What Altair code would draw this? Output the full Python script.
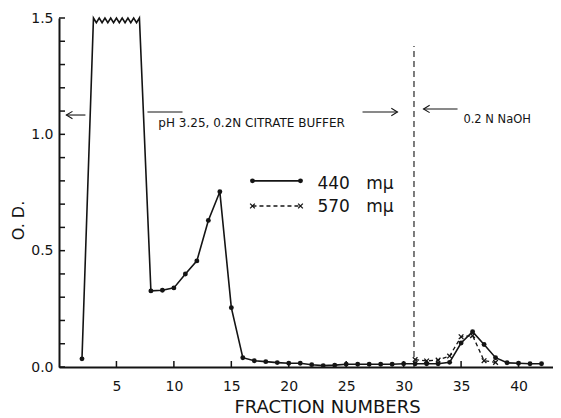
import altair as alt
import pandas as pd

# ---- data ----
F440_X = [2, 8, 9, 10, 11, 12, 13, 14, 15, 16, 17, 18, 19, 20, 21, 22, 23, 24, 25,
          26, 27, 28, 29, 30, 31, 32, 33, 34, 35, 36, 37, 38, 39, 40, 41, 42]
F440_Y = [0.035, 0.327, 0.330, 0.340, 0.400, 0.456, 0.630, 0.753, 0.255, 0.040,
          0.027, 0.023, 0.019, 0.016, 0.016, 0.010, 0.006, 0.008, 0.012, 0.012,
          0.012, 0.012, 0.012, 0.014, 0.014, 0.014, 0.014, 0.020, 0.103, 0.152,
          0.097, 0.040, 0.018, 0.016, 0.014, 0.014]
# off-scale plateau (drawn as a wavy top)
TOP_X = [3.0, 3.25, 3.5, 3.75, 4.0, 4.25, 4.5, 4.75, 5.0, 5.25, 5.5, 5.75, 6.0,
         6.25, 6.5, 6.75, 7.0]
TOP_Y = [1.5, 1.48, 1.5, 1.48, 1.5, 1.48, 1.5, 1.48, 1.5, 1.48, 1.5, 1.48, 1.5,
         1.48, 1.5, 1.48, 1.5]
F570_X = [31, 32, 33, 34, 35, 36, 37, 38]
F570_Y = [0.032, 0.026, 0.030, 0.047, 0.130, 0.135, 0.027, 0.020]

X_TICKS = [5, 10, 15, 20, 25, 30, 35, 40]
Y_LABELS = [0.0, 0.5, 1.0, 1.5]
Y_TICKS = [0.0, 0.1, 0.2, 0.3, 0.4, 0.5, 0.6, 0.7, 0.8, 0.9, 1.0, 1.1, 1.2, 1.3, 1.4, 1.5]
SWITCH_X = 30.9

INK = "#141414"
FONT = "DejaVu Sans"

xs = alt.Scale(domain=[0, 43], nice=False, zero=False)
ys = alt.Scale(domain=[0, 1.5], nice=False)

AX = alt.Axis(values=X_TICKS, ticks=False, grid=False, domainWidth=2, domainColor=INK,
              labelFontSize=14, labelColor=INK, labelFont=FONT, labelPadding=12,
              title="FRACTION NUMBERS", titleFont=FONT, titleFontSize=18,
              titleFontWeight="normal", titleColor=INK, titleX=268, titleY=45,
              titleBaseline="alphabetic", titleAlign="center")
AY = alt.Axis(values=Y_LABELS, format=".1f", ticks=False, grid=False, domainWidth=2,
              domainColor=INK, labelFontSize=14, labelColor=INK, labelFont=FONT,
              labelPadding=6, title="O. D.", titleFont=FONT, titleFontSize=16,
              titleFontWeight="normal", titleColor=INK, titleAngle=270, titleX=-36,
              titleY=202, titleBaseline="alphabetic", titleAlign="center")

def X(f="x"):
    return alt.X(f"{f}:Q", scale=xs, axis=AX)

def Y(f="y"):
    return alt.Y(f"{f}:Q", scale=ys, axis=AY)

d440 = pd.DataFrame({"x": F440_X, "y": F440_Y})
dtop = pd.DataFrame({"x": TOP_X, "y": TOP_Y})
line440 = pd.concat([d440, dtop]).sort_values("x")
d570 = pd.DataFrame({"x": F570_X, "y": F570_Y})

XMARK = "M -1 -1 L 1 1 M 1 -1 L -1 1"
HEAD_L = "M 1 -0.6 L 0 0 L 1 0.6"
HEAD_R = "M -1 -0.6 L 0 0 L -1 0.6"

l440 = alt.Chart(line440).mark_line(color=INK, strokeWidth=1.6).encode(x=X(), y=Y())
p440 = alt.Chart(d440).mark_circle(color=INK, size=24, opacity=1).encode(x=X(), y=Y())
l570 = alt.Chart(d570).mark_line(color=INK, strokeWidth=1.3, strokeDash=[4, 3]).encode(x=X(), y=Y())
p570 = alt.Chart(d570).mark_point(shape=XMARK, color=INK, size=22, strokeWidth=1.3,
                                  filled=False, opacity=1).encode(x=X(), y=Y())

# inside ticks
ytk = alt.Chart(pd.DataFrame({"y": Y_TICKS})).mark_rule(color=INK, strokeWidth=1.5).encode(
    y=Y(), x=alt.value(0), x2=alt.value(6))
xtk = alt.Chart(pd.DataFrame({"x": X_TICKS})).mark_rule(color=INK, strokeWidth=1.5).encode(
    x=X(), y=alt.value(349), y2=alt.value(343))

# vertical dashed switch line
vline = alt.Chart(pd.DataFrame({"x": [SWITCH_X], "y": [0.0], "y2": [1.38]})).mark_rule(
    color=INK, strokeWidth=1.1, strokeDash=[6, 4]).encode(x=X(), y=Y(), y2="y2:Q")

# arrows and bars
seg = pd.DataFrame({
    "x": [0.64, 7.7, 26.42, 31.73],
    "x2": [2.3, 10.75, 29.46, 34.69],
    "y": [1.083, 1.096, 1.096, 1.109],
})
segs = alt.Chart(seg).mark_rule(color=INK, strokeWidth=1.1).encode(x=X(), x2="x2:Q", y=Y())
headsL = alt.Chart(pd.DataFrame({"x": [0.64, 31.73], "y": [1.083, 1.109]})).mark_point(
    shape=HEAD_L, size=150, color=INK, strokeWidth=1.1, filled=False, opacity=1).encode(x=X(), y=Y())
headsR = alt.Chart(pd.DataFrame({"x": [29.46], "y": [1.096]})).mark_point(
    shape=HEAD_R, size=150, color=INK, strokeWidth=1.1, filled=False, opacity=1).encode(x=X(), y=Y())

notes1 = pd.DataFrame({"x": [8.65], "y": [1.031], "t": ["pH 3.25, 0.2N CITRATE BUFFER"]})
notes2 = pd.DataFrame({"x": [35.2], "y": [1.049], "t": ["0.2 N NaOH"]})
txt1 = alt.Chart(notes1).mark_text(align="left", baseline="alphabetic", font=FONT,
                                   fontSize=12, color=INK).encode(x=X(), y=Y(), text="t:N")
txt2 = alt.Chart(notes2).mark_text(align="left", baseline="alphabetic", font=FONT,
                                   fontSize=11.5, color=INK).encode(x=X(), y=Y(), text="t:N")

# legend
leg_l = pd.DataFrame({"x": [16.84], "x2": [21.02], "y": [0.80]})
leg_d = pd.DataFrame({"x": [16.84], "x2": [21.02], "y": [0.692]})
legl1 = alt.Chart(leg_l).mark_rule(color=INK, strokeWidth=1.6).encode(x=X(), x2="x2:Q", y=Y())
legl2 = alt.Chart(leg_d).mark_rule(color=INK, strokeWidth=1.3, strokeDash=[4, 3]).encode(
    x=X(), x2="x2:Q", y=Y())
legp1 = alt.Chart(pd.DataFrame({"x": [16.84, 21.02], "y": [0.80, 0.80]})).mark_circle(
    color=INK, size=24, opacity=1).encode(x=X(), y=Y())
legp2 = alt.Chart(pd.DataFrame({"x": [16.84, 21.02], "y": [0.692, 0.692]})).mark_point(
    shape=XMARK, color=INK, size=22, strokeWidth=1.3, filled=False, opacity=1).encode(x=X(), y=Y())
legt = alt.Chart(pd.DataFrame({"x": [22.5, 22.5], "y": [0.786, 0.688],
                               "t": ["440\u00a0\u00a0\u00a0mμ", "570\u00a0\u00a0\u00a0mμ"]})).mark_text(
    align="left", baseline="middle", font=FONT, fontSize=17, color=INK).encode(
    x=X(), y=Y(), text="t:N")

chart = alt.layer(
    ytk, xtk, vline, l570, l440, p570, p440, segs, headsL, headsR, txt1, txt2,
    legl1, legl2, legp1, legp2, legt
).properties(
    width=494, height=349,
    autosize=alt.AutoSizeParams(type="none"),
    padding={"left": 51, "top": 10, "right": 0, "bottom": 50},
    background="white",
).configure_view(stroke=None)

chart.save("out.html", embed_options={"renderer": "svg", "actions": False})
